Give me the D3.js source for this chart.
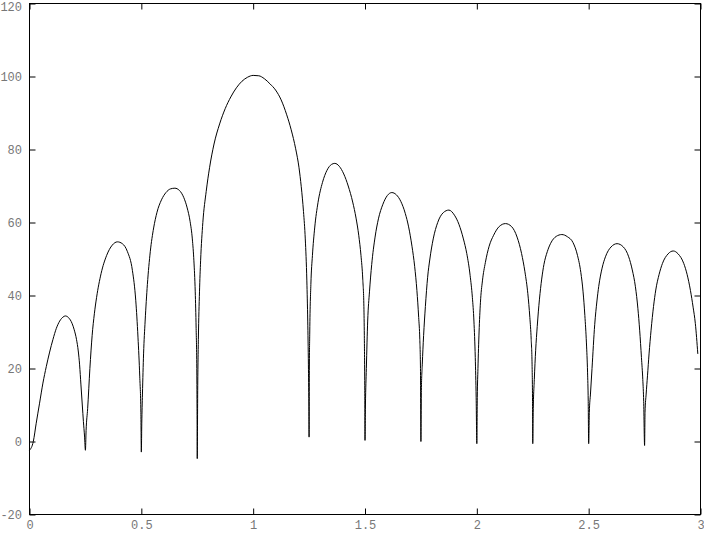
<!DOCTYPE html>
<html>
<head>
<meta charset="utf-8">
<script src="https://cdn.jsdelivr.net/npm/d3@7"></script>
<style>
  html, body { margin: 0; padding: 0; background: #fff; }
  svg { display: block; }
  .tick text { font-family: "Liberation Mono", "DejaVu Sans Mono", monospace; font-size: 12px; fill: #777; }
</style>
</head>
<body>
<svg id="chart" width="704" height="533"></svg>
<script>
// ---- data ----
const xTicks = [0, 0.5, 1, 1.5, 2, 2.5, 3];
const yTicks = [-20, 0, 20, 40, 60, 80, 100, 120];

const xValues = [
  0.000, 0.017, 0.030, 0.045, 0.060, 0.075, 0.090, 0.105, 0.120, 0.135, 0.150, 0.160, 0.175, 0.190, 0.200, 0.210, 0.218, 0.224, 0.230, 0.236, 0.241, 0.246, 0.250,
  0.253, 0.260, 0.270, 0.280, 0.290, 0.300, 0.320, 0.345, 0.370, 0.393, 0.415, 0.438, 0.460, 0.475, 0.485, 0.493, 0.498, 0.500,
  0.502, 0.505, 0.510, 0.517, 0.527, 0.540, 0.555, 0.570, 0.590, 0.610, 0.630, 0.650, 0.670, 0.690, 0.705, 0.718, 0.728, 0.735, 0.741, 0.745, 0.748, 0.749, 0.750,
  0.752, 0.755, 0.760, 0.765, 0.775, 0.790, 0.805, 0.825, 0.850, 0.875, 0.900, 0.925, 0.950, 0.975, 1.000, 1.025, 1.050, 1.075, 1.100, 1.125, 1.150, 1.170, 1.190, 1.205, 1.215, 1.225, 1.233, 1.240, 1.244, 1.247, 1.249, 1.250,
  1.251, 1.253, 1.258, 1.265, 1.275, 1.290, 1.310, 1.330, 1.350, 1.365, 1.385, 1.405, 1.425, 1.445, 1.460, 1.472, 1.482, 1.490, 1.495, 1.497, 1.499, 1.500,
  1.502, 1.506, 1.512, 1.520, 1.530, 1.545, 1.560, 1.580, 1.600, 1.620, 1.640, 1.660, 1.680, 1.695, 1.710, 1.722, 1.732, 1.740, 1.745, 1.748, 1.750,
  1.752, 1.756, 1.762, 1.770, 1.780, 1.790, 1.805, 1.825, 1.850, 1.875, 1.900, 1.920, 1.940, 1.955, 1.970, 1.980, 1.987, 1.993, 1.997, 2.000,
  2.002, 2.005, 2.010, 2.016, 2.025, 2.038, 2.055, 2.075, 2.100, 2.128, 2.155, 2.180, 2.200, 2.215, 2.228, 2.237, 2.243, 2.247, 2.249, 2.250,
  2.252, 2.257, 2.263, 2.270, 2.280, 2.290, 2.300, 2.315, 2.330, 2.355, 2.380, 2.405, 2.430, 2.450, 2.465, 2.475, 2.483, 2.490, 2.495, 2.498, 2.500,
  2.503, 2.508, 2.515, 2.527, 2.537, 2.545, 2.560, 2.575, 2.600, 2.627, 2.655, 2.679, 2.695, 2.709, 2.720, 2.728, 2.736, 2.742, 2.746, 2.750,
  2.752, 2.757, 2.763, 2.770, 2.779, 2.790, 2.800, 2.815, 2.830, 2.855, 2.878, 2.900, 2.925, 2.940, 2.955, 2.967, 2.977, 2.988
];

const yValues = [
  -2.4, 0.0, 5.0, 10.5, 16.0, 20.5, 24.5, 28.0, 31.0, 33.0, 34.1, 34.4, 33.9, 32.4, 30.6, 28.0, 24.8, 21.0, 15.5, 10.0, 5.5, 1.5, -2.4,
  3.0, 9.0, 20.0, 29.0, 35.0, 39.5, 46.0, 51.0, 53.8, 54.7, 54.2, 52.0, 46.9, 38.7, 28.6, 17.7, 8.0, -2.9,
  5.0, 13.0, 24.0, 33.0, 43.0, 52.0, 58.5, 62.8, 66.2, 68.2, 69.2, 69.4, 68.8, 66.8, 64.0, 60.3, 55.5, 49.5, 41.0, 31.0, 20.0, 10.0, -4.7,
  14.0, 28.0, 41.0, 49.5, 60.0, 68.5, 75.0, 81.5, 87.0, 91.2, 94.4, 96.9, 98.7, 99.8, 100.3, 100.2, 99.4, 98.0, 96.3, 93.6, 89.5, 85.4, 80.2, 75.0, 69.8, 63.0, 55.5, 44.0, 33.0, 21.0, 10.0, 1.2,
  18.0, 30.0, 43.0, 51.0, 58.5, 65.5, 71.0, 74.3, 75.9, 76.2, 75.4, 73.3, 70.0, 65.6, 61.2, 56.5, 51.0, 44.5, 37.0, 29.0, 14.0, 0.3,
  10.0, 20.0, 33.0, 41.0, 48.5, 56.0, 61.0, 65.0, 67.4, 68.2, 67.6, 65.8, 62.5, 58.8, 53.5, 48.0, 41.4, 34.0, 28.0, 20.0, 0.0,
  14.0, 21.0, 29.0, 37.0, 45.0, 50.0, 55.5, 60.0, 62.7, 63.4, 62.0, 59.5, 55.5, 51.5, 45.5, 39.5, 33.0, 23.0, 12.0, -0.6,
  12.0, 20.0, 30.0, 38.0, 44.0, 49.0, 53.5, 56.5, 58.9, 59.7, 58.9, 56.0, 51.5, 46.5, 40.5, 34.0, 28.0, 21.0, 11.0, -0.6,
  8.0, 17.0, 25.0, 31.5, 39.0, 44.5, 48.5, 52.0, 54.3, 56.2, 56.7, 56.1, 54.5, 51.0, 46.3, 41.0, 34.5, 27.0, 19.0, 11.0, -0.6,
  8.0, 13.0, 20.0, 32.0, 38.5, 42.5, 47.5, 50.6, 53.3, 54.2, 53.3, 50.6, 47.0, 42.4, 36.5, 30.5, 23.0, 17.0, 11.0, -1.1,
  8.0, 13.0, 18.0, 24.0, 30.5, 37.0, 41.5, 45.8, 48.8, 51.4, 52.2, 51.4, 48.8, 45.8, 41.4, 36.8, 32.3, 24.0
];

// ---- drawing ----
const svg = d3.select("#chart");
const W = 704, H = 533;
svg.append("rect").attr("width", W).attr("height", H).attr("fill", "#fff");

const x = d3.scaleLinear().domain([0, 3]).range([29.5, 700.5]);
const y = d3.scaleLinear().domain([-20, 120]).range([514.5, 3.5]);

const points = xValues.map((v, i) => [v, yValues[i]]);

// bottom axis (ticks inward + labels)
const gB = svg.append("g").attr("transform", `translate(0,${y(-20)})`)
  .call(d3.axisBottom(x).tickValues(xTicks).tickSizeInner(-6).tickSizeOuter(0).tickPadding(6).tickFormat(d => String(d)));
// top axis mirror ticks
const gT = svg.append("g").attr("transform", `translate(0,${y(120)})`)
  .call(d3.axisTop(x).tickValues(xTicks).tickSizeInner(-6).tickSizeOuter(0).tickFormat(""));
// left axis
const gL = svg.append("g").attr("transform", `translate(${x(0)},0)`)
  .call(d3.axisLeft(y).tickValues(yTicks).tickSizeInner(-6).tickSizeOuter(0).tickPadding(7.5).tickFormat(d => String(d)));
// right axis mirror ticks
const gR = svg.append("g").attr("transform", `translate(${x(3)},0)`)
  .call(d3.axisRight(y).tickValues(yTicks).tickSizeInner(-6).tickSizeOuter(0).tickFormat(""));

[gB, gT, gL, gR].forEach(g => {
  g.select(".domain").remove();
  g.selectAll(".tick line").attr("stroke", "#000").attr("stroke-width", 1);
});
gB.selectAll(".tick text").attr("fill", "#777");
gL.selectAll(".tick text").attr("fill", "#777")
  .filter(d => d === 120).attr("dy", "0.55em");   // keep the top label inside the picture

// frame
svg.append("rect")
  .attr("x", x(0)).attr("y", y(120))
  .attr("width", x(3) - x(0)).attr("height", y(-20) - y(120))
  .attr("fill", "none").attr("stroke", "#000").attr("stroke-width", 1);

// curve
const line = d3.line().x(d => x(d[0])).y(d => y(d[1])).curve(d3.curveMonotoneX);
svg.append("path").datum(points)
  .attr("d", line).attr("fill", "none").attr("stroke", "#000").attr("stroke-width", 1);
</script>
</body>
</html>
